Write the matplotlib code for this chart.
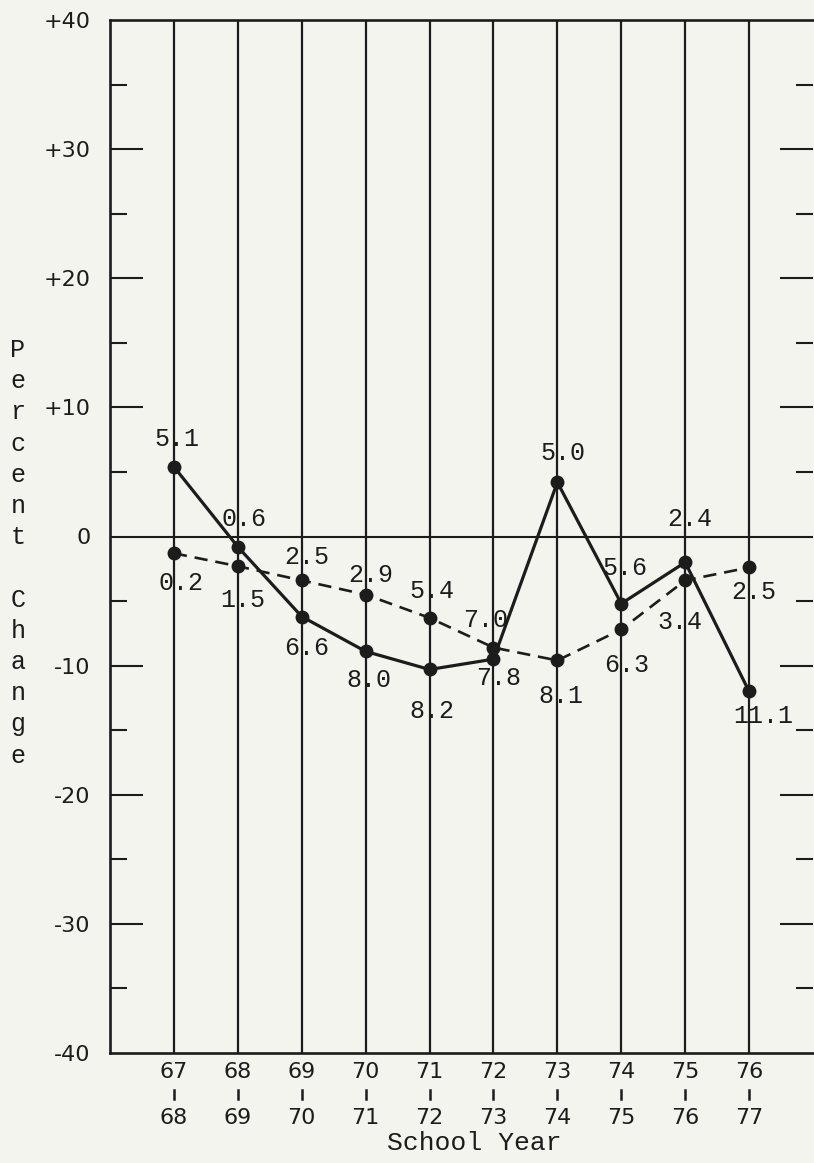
import matplotlib
matplotlib.use("Agg")
import matplotlib.pyplot as plt
from matplotlib.lines import Line2D

# ---- data ----
years_top = ["67", "68", "69", "70", "71", "72", "73", "74", "75", "76"]
years_bottom = ["68", "69", "70", "71", "72", "73", "74", "75", "76", "77"]
solid_values = [5.4, -0.8, -6.2, -8.9, -10.3, -9.5, 4.2, -5.2, -2.0, -12.0]
dashed_values = [-1.3, -2.3, -3.4, -4.5, -6.3, -8.6, -9.6, -7.2, -3.4, -2.4]
solid_labels = ["5.1", "0.6", "6.6", "8.0", "8.2", "7.8", "5.0", "5.6", "2.4", "11.1"]
dashed_labels = ["0.2", "1.5", "2.5", "2.9", "5.4", "7.0", "8.1", "6.3", "3.4", "2.5"]
ytick_values = [40, 30, 20, 10, 0, -10, -20, -30, -40]
ytick_labels = ["+40", "+30", "+20", "+10", "0", "-10", "-20", "-30", "-40"]
ylabel_text = "Percent Change"
xlabel_text = "School Year"

# label offsets in pixels (dx right, dy down)
solid_offsets = [(3, -28), (6, -28), (5, 31), (3, 29), (2, 42), (5, 19),
                 (6, -29), (4, -36), (5, -43), (14, 25)]
dashed_offsets = [(7, 30), (5, 34), (5, -23), (5, -20), (2, -27), (-8, -28),
                  (4, 36), (5, 36), (-5, 42), (5, 25)]

INK = "#1c1c1c"
PAPER = "#f4f4ef"
MONO = ["Liberation Mono", "DejaVu Sans Mono"]
SANS = ["DejaVu Sans"]

W, H = 814, 1163
fig = plt.figure(figsize=(W / 100, H / 100), dpi=100, facecolor=PAPER)
left_px, right_px, top_px, bot_px = 110, 813, 20, 1053
ax = fig.add_axes([left_px / W, 1 - bot_px / H, (right_px - left_px) / W,
                   (bot_px - top_px) / H])
ax.set_facecolor(PAPER)

x = list(range(len(years_top)))
ax.set_xlim(-1, len(years_top))
ax.set_ylim(-40, 40)

# vertical grid lines at each year
for xi in x:
    ax.axvline(xi, color=INK, lw=1.6, zorder=1)
ax.axhline(0, color=INK, lw=1.5, zorder=1)

# spines
for s in ["left", "top", "bottom"]:
    ax.spines[s].set_color(INK)
    ax.spines[s].set_linewidth(1.9)
ax.spines["right"].set_visible(False)

# ticks
ax.set_xticks([])
ax.set_yticks(ytick_values)
ax.set_yticks([35, 25, 15, 5, -5, -15, -25, -35], minor=True)
ax.set_yticklabels(ytick_labels, fontsize=16, family=SANS, color=INK)
ax.tick_params(axis="y", which="major", direction="in", length=24, width=1.5,
               color=INK, left=True, right=True, pad=14)
ax.tick_params(axis="y", which="minor", direction="in", length=12, width=1.5,
               color=INK, left=True, right=True)
for t in ax.yaxis.get_major_ticks():
    if t.get_loc() in (0, 40, -40):
        t.tick1line.set_visible(False)
        t.tick2line.set_visible(False)

# series
ax.plot(x, solid_values, color=INK, lw=2.3, marker="o", markersize=9,
        zorder=3)
ax.plot(x, dashed_values, color=INK, lw=1.9, dashes=(5, 3), marker="o",
        markersize=9, zorder=3)

for xi, v, lab, (dx, dy) in zip(x, solid_values, solid_labels, solid_offsets):
    ax.annotate(lab, (xi, v), xytext=(dx, -dy), textcoords="offset pixels",
                ha="center", va="center", fontsize=18, family=MONO, color=INK,
                zorder=4)
for xi, v, lab, (dx, dy) in zip(x, dashed_values, dashed_labels, dashed_offsets):
    ax.annotate(lab, (xi, v), xytext=(dx, -dy), textcoords="offset pixels",
                ha="center", va="center", fontsize=18, family=MONO, color=INK,
                zorder=4)

# x tick labels: two years with a small bar between
trans = ax.get_xaxis_transform()
ah = bot_px - top_px
def ax_y(py):
    return (bot_px - py) / ah
for xi, a, b in zip(x, years_top, years_bottom):
    ax.text(xi, ax_y(1072), a, transform=trans, ha="center", va="center",
            fontsize=16, family=SANS, color=INK, clip_on=False)
    ax.text(xi, ax_y(1118), b, transform=trans, ha="center", va="center",
            fontsize=16, family=SANS, color=INK, clip_on=False)
    ax.add_line(Line2D([xi, xi], [ax_y(1090), ax_y(1099)], transform=trans,
                       color=INK, lw=1.8, clip_on=False))

# axis titles
fig.text(474 / W, 1 - 1143 / H, xlabel_text, ha="center", va="center",
         fontsize=19, family=MONO, color=INK)
row = 0
for ch in ylabel_text:
    if ch == " ":
        row += 1
        continue
    py = 350 + row * 31.2
    fig.text(18 / W, 1 - py / H, ch, ha="center", va="center", fontsize=18,
             family=MONO, color=INK)
    row += 1

fig.savefig("out.png", dpi=100, facecolor=PAPER)
